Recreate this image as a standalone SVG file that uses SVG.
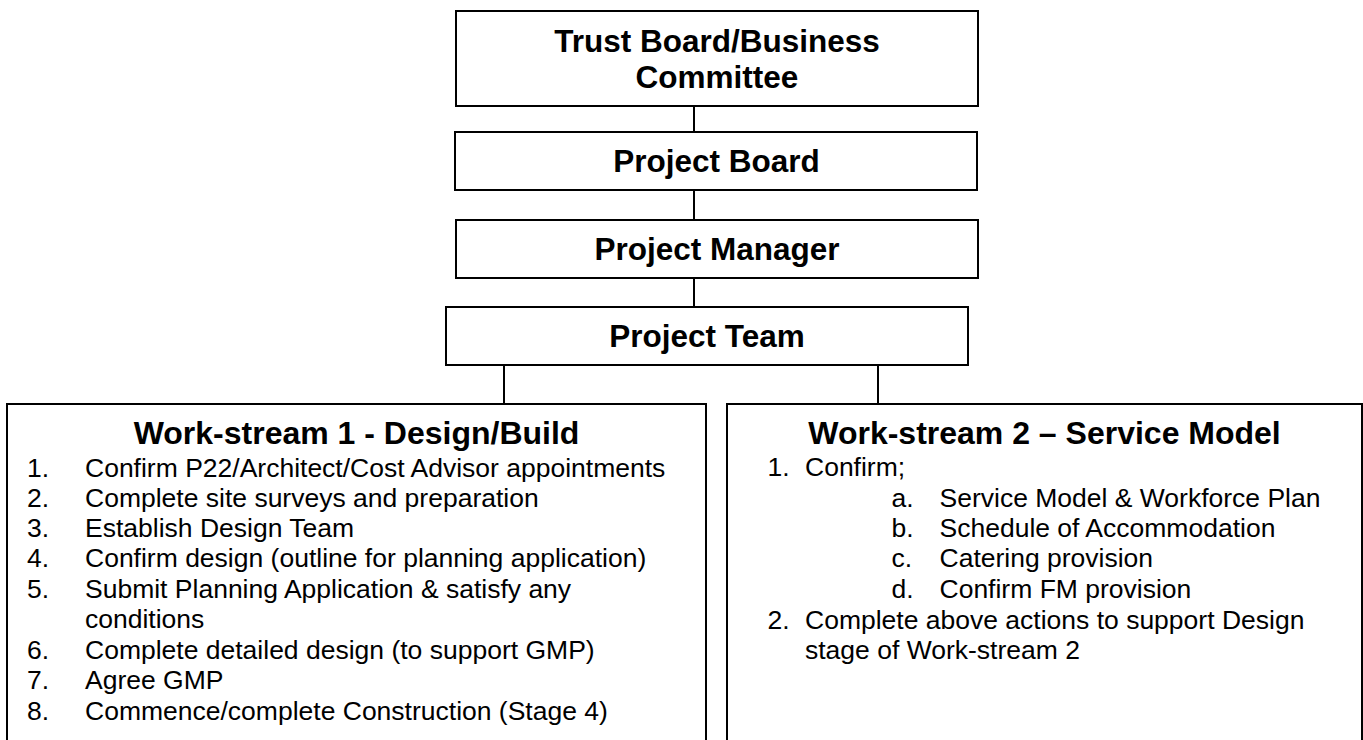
<svg xmlns="http://www.w3.org/2000/svg" width="1363" height="740" viewBox="0 0 1363 740">
<style>
.box{fill:#fff;stroke:#000;stroke-width:2}
.conn{stroke:#000;stroke-width:2;fill:none}
.title{font-family:"Liberation Sans",Arial,sans-serif;font-weight:bold;font-size:31.5px;fill:#000;text-anchor:middle}
.head{font-family:"Liberation Sans",Arial,sans-serif;font-weight:bold;font-size:32px;fill:#000;text-anchor:middle}
.body{font-family:"Liberation Sans",Arial,sans-serif;font-size:26.5px;fill:#000}
</style>
<rect width="1363" height="740" fill="#fff"/>
<g id="connectors">
<line class="conn" x1="694" y1="106" x2="694" y2="132"/>
<line class="conn" x1="694" y1="190" x2="694" y2="220"/>
<line class="conn" x1="694" y1="278" x2="694" y2="307"/>
<line class="conn" x1="504" y1="365" x2="504" y2="404"/>
<line class="conn" x1="878" y1="365" x2="878" y2="404"/>
</g>
<g id="trust-board">
<rect class="box" x="456" y="11" width="522" height="95"/>
<text class="title" x="717" y="52">Trust Board/Business</text>
<text class="title" x="717" y="88">Committee</text>
</g>
<g id="project-board">
<rect class="box" x="455" y="132" width="522" height="58"/>
<text class="title" x="716.5" y="172">Project Board</text>
</g>
<g id="project-manager">
<rect class="box" x="456" y="220" width="522" height="58"/>
<text class="title" x="717" y="260">Project Manager</text>
</g>
<g id="project-team">
<rect class="box" x="446" y="307" width="522" height="58"/>
<text class="title" x="707" y="347">Project Team</text>
</g>
<g id="workstream-1">
<rect class="box" x="7" y="404" width="699" height="360"/>
<text class="head" x="356.5" y="444">Work-stream 1 - Design/Build</text>
<g class="body">
<text x="27" y="477">1.</text><text x="85" y="477">Confirm P22/Architect/Cost Advisor appointments</text>
<text x="27" y="507">2.</text><text x="85" y="507">Complete site surveys and preparation</text>
<text x="27" y="537">3.</text><text x="85" y="537">Establish Design Team</text>
<text x="27" y="567">4.</text><text x="85" y="567">Confirm design (outline for planning application)</text>
<text x="27" y="598">5.</text><text x="85" y="598">Submit Planning Application &amp; satisfy any</text>
<text x="85" y="628">conditions</text>
<text x="27" y="659">6.</text><text x="85" y="659">Complete detailed design (to support GMP)</text>
<text x="27" y="689">7.</text><text x="85" y="689">Agree GMP</text>
<text x="27" y="720">8.</text><text x="85" y="720">Commence/complete Construction (Stage 4)</text>
</g>
</g>
<g id="workstream-2">
<rect class="box" x="727" y="404" width="635" height="360"/>
<text class="head" x="1044.5" y="444">Work-stream 2 – Service Model</text>
<g class="body">
<text x="767.5" y="476">1.</text><text x="805" y="476">Confirm;</text>
<text x="891.5" y="507">a.</text><text x="939.5" y="507">Service Model &amp; Workforce Plan</text>
<text x="891.5" y="537">b.</text><text x="939.5" y="537">Schedule of Accommodation</text>
<text x="891.5" y="567">c.</text><text x="939.5" y="567">Catering provision</text>
<text x="891.5" y="598">d.</text><text x="939.5" y="598">Confirm FM provision</text>
<text x="767.5" y="629">2.</text><text x="805" y="629">Complete above actions to support Design</text>
<text x="805" y="659">stage of Work-stream 2</text>
</g>
</g>
</svg>
